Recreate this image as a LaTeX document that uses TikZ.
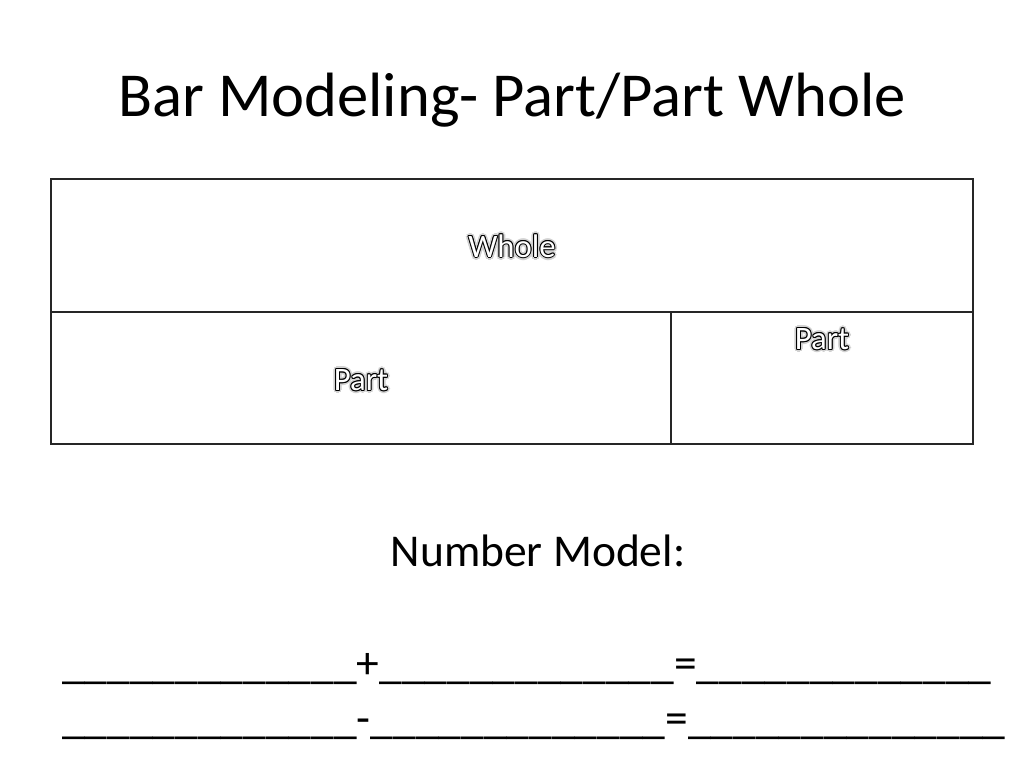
\documentclass[tikz,border=0pt]{standalone}
\usepackage{fontspec}
\setmainfont{Carlito}
\newcommand{\olab}[1]{%
  \foreach \dx/\dy in {2/0,-2/0,0/2,0/-2,1.4/1.4,-1.4/1.4,1.4/-1.4,-1.4/-1.4}{\makebox[0pt][l]{\kern\dx pt\raisebox{\dy pt}{\color{black!18}#1}}}%
  \foreach \dx/\dy in {0.7/0,-0.7/0,0/0.7,0/-0.7,0.5/0.5,-0.5/0.5,0.5/-0.5,-0.5/-0.5}{\makebox[0pt][l]{\kern\dx pt\raisebox{\dy pt}{\color{black}#1}}}%
  {\color{white}#1}}
\tikzset{
  frame/.style={draw=black!85, line width=1.1pt},
  titletxt/.style={font=\fontsize{44pt}{53pt}\selectfont, inner sep=0pt, anchor=base},
  bodytxt/.style={font=\fontsize{32pt}{38pt}\selectfont, inner sep=0pt, anchor=base},
  boxlab/.style={font=\fontsize{23pt}{27pt}\selectfont, inner sep=0pt}
}
\begin{document}
\begin{tikzpicture}[x=0.703125pt, y=-0.703125pt]
\useasboundingbox[fill=white] (0,0) rectangle (1024,768);
% bar model
\coordinate (tl) at (51,179);
\coordinate (br) at (973,444);
\coordinate (ml) at (51,312);
\coordinate (mr) at (973,312);
\coordinate (vt) at (671,312);
\coordinate (vb) at (671,444);
\draw[frame] (tl) rectangle (br);
\draw[frame] (ml) -- (mr);
\draw[frame] (vt) -- (vb);
\node[boxlab] (whole) at (512,246) {\olab{Whole}};
\node[boxlab] (partl) at (361,380) {\olab{Part}};
\node[boxlab] (partr) at (822,339) {\olab{Part}};
% texts
\node[titletxt] (title) at (512,117) {Bar Modeling- Part/Part Whole};
\node[bodytxt] (nm) at (538,566) {Number Model:};
\node[bodytxt, anchor=base west] (eq1) at (62,678) {\_\_\_\_\_\_\_\_\_\_\_\_\_+\_\_\_\_\_\_\_\_\_\_\_\_\_=\_\_\_\_\_\_\_\_\_\_\_\_\_};
\node[bodytxt, anchor=base west] (eq2) at (62,733) {\_\_\_\_\_\_\_\_\_\_\_\_\_-\_\_\_\_\_\_\_\_\_\_\_\_\_=\_\_\_\_\_\_\_\_\_\_\_\_\_\_};
\end{tikzpicture}
\end{document}
